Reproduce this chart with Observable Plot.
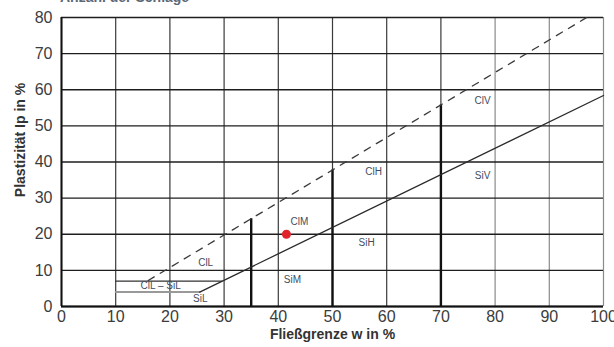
<!DOCTYPE html>
<html>
<head>
<meta charset="utf-8">
<script src="https://cdn.jsdelivr.net/npm/d3@7"></script>
<script src="https://cdn.jsdelivr.net/npm/@observablehq/plot@0.6"></script>
<style>
  html, body { margin: 0; padding: 0; background: #fff; overflow: hidden; }
  #wrap { position: relative; width: 614px; height: 347px; }
  #top { position: absolute; left: 60px; top: -10px; font: bold 14px "Liberation Sans", Arial, sans-serif; line-height: 14px; color: #5b6878; white-space: nowrap; }
  #chart { position: absolute; left: 0; top: 0; }
</style>
</head>
<body>
<div id="wrap">
  <div id="chart"></div>
  <div id="top">Anzahl der Schläge</div>
</div>
<script>
// Axis ticks
const xTicks = [0, 10, 20, 30, 40, 50, 60, 70, 80, 90, 100];
const yTicks = [0, 10, 20, 30, 40, 50, 60, 70, 80];

// A-line (solid) and U-line (dashed): liquid limit w vs plasticity index Ip
const aLineW = [25.5, 100];
const aLineIp = [4, 58.4];
const uLineW = [16, 96.9];
const uLineIp = [7.2, 80];

// CL-SiL band horizontals
const bandUpperW = [10, 29.6];
const bandUpperIp = [7, 7];
const bandLowerW = [10, 25.5];
const bandLowerIp = [4, 4];

// Vertical zone boundaries (from 0 up to U-line)
const boundW = [35, 50, 70];
const boundTop = [24.3, 37.8, 55.8];

// Zone labels
const zoneNames = ["ClL", "ClL – SiL", "SiL", "SiM", "ClM", "SiH", "ClH", "ClV", "SiV"];
const zoneW = [26.6, 18.3, 25.6, 42.6, 43.9, 56.3, 57.6, 77.7, 77.7];
const zoneIp = [12.2, 5.8, 2.2, 7.5, 23.5, 17.7, 37.4, 57, 36.3];

// Sample point
const sampleW = [41.5];
const sampleIp = [20];

const line = (ws, ips) => ws.map((w, i) => ({w, ip: ips[i]}));
const zones = zoneNames.map((n, i) => ({n, w: zoneW[i], ip: zoneIp[i]}));
const bounds = boundW.map((w, i) => ({w, top: boundTop[i]}));
const samples = sampleW.map((w, i) => ({w, ip: sampleIp[i]}));

const chart = Plot.plot({
  width: 614,
  height: 347,
  marginLeft: 61,
  marginRight: 11,
  marginTop: 17,
  marginBottom: 41,
  style: {fontFamily: "'Liberation Sans', Arial, sans-serif", background: "transparent", overflow: "visible"},
  x: {domain: [0, 100], ticks: xTicks},
  y: {domain: [0, 80], ticks: yTicks},
  marks: [
    Plot.ruleX(xTicks, {stroke: d => d >= 80 ? "#8a8a8a" : "#3a3a3a", strokeWidth: 1.2}),
    Plot.ruleY(yTicks, {stroke: "#1e1e1e", strokeWidth: 1.4}),
    Plot.ruleX(bounds, {x: "w", y1: 0, y2: "top", stroke: "#111", strokeWidth: 2.4}),
    Plot.line(line(bandLowerW, bandLowerIp), {x: "w", y: "ip", stroke: "#999", strokeWidth: 2}),
    Plot.line(line(bandUpperW, bandUpperIp), {x: "w", y: "ip", stroke: "#333", strokeWidth: 1.2}),
    Plot.line(line(aLineW, aLineIp), {x: "w", y: "ip", stroke: "#2a2a2a", strokeWidth: 1.3}),
    Plot.line(line(uLineW, uLineIp), {x: "w", y: "ip", stroke: "#3a3a3a", strokeWidth: 1.3, strokeDasharray: "7,7"}),
    Plot.ruleX([0], {stroke: "#111", strokeWidth: 2}),
    Plot.ruleY([0], {stroke: "#111", strokeWidth: 2}),
    Plot.text(zones, {x: "w", y: "ip", text: "n", fill: "#3f4d60", fontSize: 10}),
    Plot.dot(samples, {x: "w", y: "ip", r: 4.5, fill: "#e0242c", stroke: "none"}),
    Plot.axisX({ticks: xTicks, tickSize: 0, tickPadding: 4, fontSize: 16, color: "#3c3c3c", label: null}),
    Plot.axisY({ticks: yTicks, tickSize: 0, tickPadding: 9, fontSize: 16, color: "#3c3c3c", label: null}),
    Plot.text(["Fließgrenze w in %"], {frameAnchor: "bottom", lineAnchor: "middle", dy: 28, fontSize: 14, fontWeight: "bold", fill: "#333"}),
    Plot.text(["Plastizität Ip in %"], {frameAnchor: "left", textAnchor: "middle", lineAnchor: "middle", rotate: -90, dx: -41, dy: -22, fontSize: 14, fontWeight: "bold", fill: "#333"})
  ]
});
document.getElementById("chart").appendChild(chart);
</script>
</body>
</html>
